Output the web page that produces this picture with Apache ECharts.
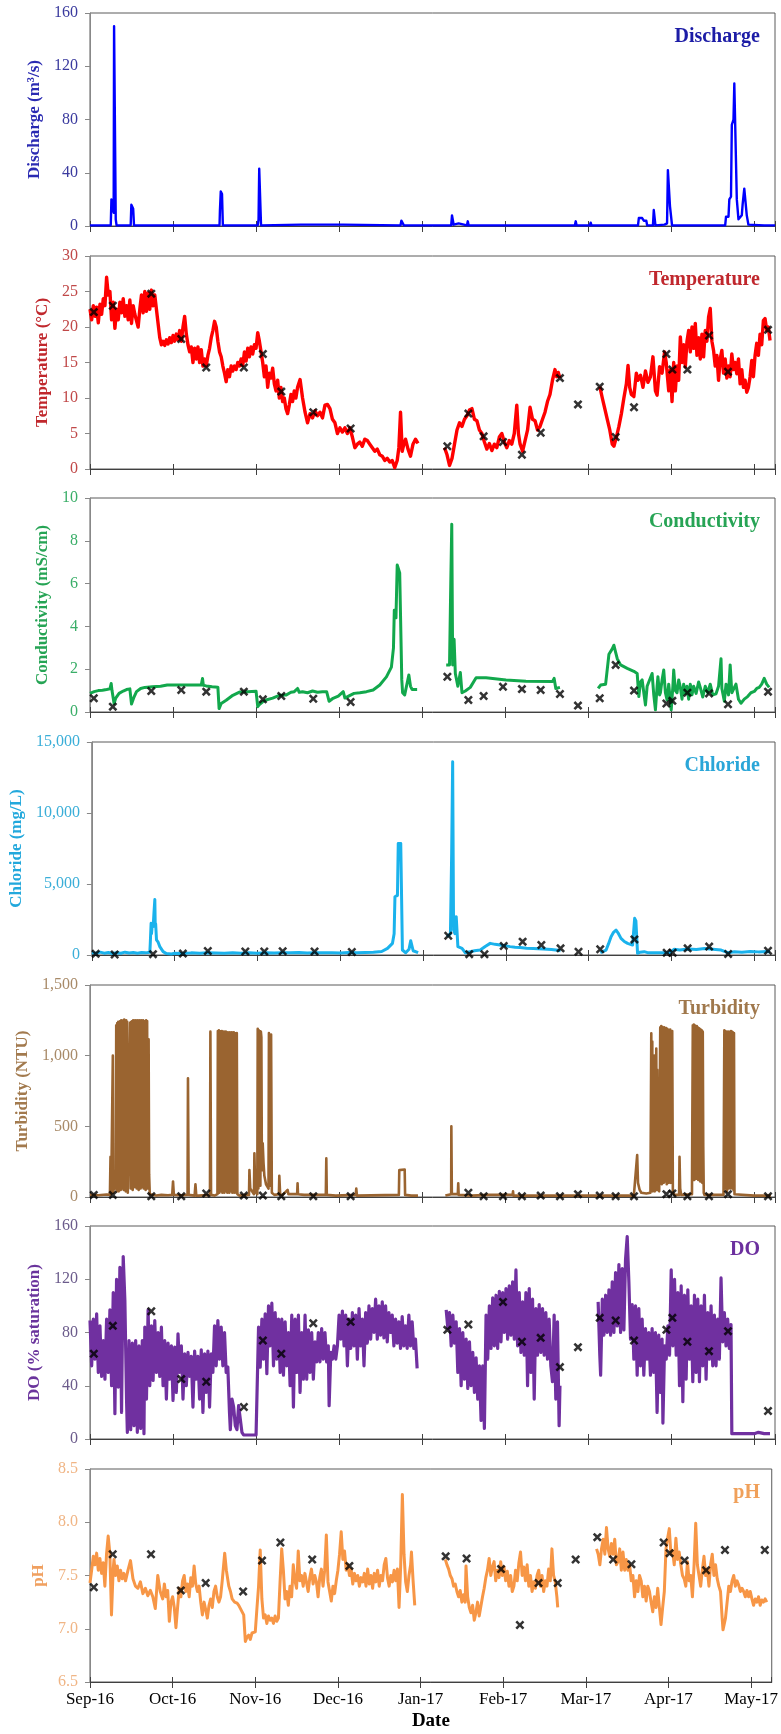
<!DOCTYPE html>
<html><head><meta charset="utf-8">
<script src="https://cdn.jsdelivr.net/npm/echarts@6/dist/echarts.min.js"></script>
<style>html,body{margin:0;padding:0;background:#fff}#c{width:781px;height:1734px}</style>
</head><body><div id="c"></div><script>
// x values are in months since Sep-16 (tick every month)
const tickLabels = ['Sep-16','Oct-16','Nov-16','Dec-16','Jan-17','Feb-17','Mar-17','Apr-17','May-17'];

const sampleMonths = [0.046,0.275,0.738,1.099,1.40,1.853,2.082,2.304,2.689,3.139,4.304,4.557,4.741,4.974,5.202,5.428,5.66,5.877,6.139,6.331,6.552,6.942,7.014,7.195,7.455,7.684,8.166];
const tempSample = [22.1,23.0,24.7,18.3,14.3,14.3,16.2,10.9,8.0,5.7,3.2,7.8,4.6,3.8,2.0,5.1,12.8,9.1,11.6,4.5,8.7,16.2,14.0,14.0,18.8,13.7,19.6];
const condSample = [0.64,0.25,0.98,1.03,0.95,0.95,0.59,0.75,0.62,0.47,1.65,0.56,0.75,1.18,1.07,1.03,0.84,0.3,0.64,2.2,1.0,0.4,0.52,0.9,0.87,0.36,0.95];
const clSample = [80,30,60,100,280,250,250,260,250,210,1360,60,54,630,940,700,470,230,400,null,1100,160,160,470,590,70,300];
const turbSample = [15,15,5,5,25,10,10,5,5,5,null,30,5,5,5,10,5,20,10,5,5,20,25,5,5,20,5];
const doSample = [64,85,96,45,43,24,74,64,87,88,82,86,null,103,73,76,54,69,91,89,74,82,91,73,66,81,21];
const phSample = [7.39,7.70,7.70,7.36,7.43,7.35,7.64,7.81,7.65,7.59,7.68,7.66,null,7.56,7.035,7.43,7.43,7.65,7.86,7.65,7.605,7.81,7.71,7.64,7.55,7.74,7.74];

const dischargeData = [[0,0.5],[0.25,0.5],[0.258,20],[0.27,18],[0.285,10],[0.29,150],[0.302,150],[0.31,5],[0.32,0.5],[0.49,0.5],[0.498,16],[0.51,15],[0.52,13],[0.53,0.5],[0.81,0.5],[0.82,1.5],[0.83,0.5],[1.34,0.5],[1.35,1],[1.36,0.5],[1.56,0.5],[1.565,12],[1.575,26],[1.59,24],[1.6,0.5],[2.02,0.5],[2.03,5],[2.038,43],[2.05,42],[2.06,0.5],[2.54,1],[3.05,1],[3.74,0.5],[3.75,4],[3.77,4],[3.78,0.5],[4.35,0.5],[4.36,8],[4.375,8],[4.38,1],[4.44,2],[4.45,0.5],[4.54,0.5],[4.55,3.5],[4.56,0.5],[5.59,0.5],[5.6,1],[5.61,0.5],[5.84,0.5],[5.85,3.5],[5.86,0.5],[6.02,0.5],[6.03,2.5],[6.04,0.5],[6.12,0.5],[6.13,1],[6.14,0.5],[6.6,0.5],[6.61,6],[6.65,6],[6.67,4],[6.7,4],[6.71,0.5],[6.78,0.5],[6.79,12],[6.8,12],[6.81,0.5],[6.92,1],[6.93,2],[6.95,2],[6.96,42],[6.98,42],[6.985,15],[7.0,15],[7.01,0.5],[7.65,0.5],[7.66,7],[7.69,7],[7.7,20],[7.72,22],[7.73,76],[7.75,80],[7.76,107],[7.78,107],[7.79,20],[7.81,5],[7.85,8],[7.86,16],[7.88,28],[7.9,28],[7.91,8],[7.93,1],[8.12,0.5],[8.13,1.5],[8.14,0.5],[8.25,0.5]];

const tempData = [[0,22.5],[0.02,21.0],[0.04,23.0],[0.06,21.5],[0.08,22.8],[0.10,20.6],[0.12,23.2],[0.14,21.8],[0.16,24.0],[0.18,23.0],[0.20,27.0],[0.22,24.5],[0.24,25.0],[0.26,21.0],[0.28,23.5],[0.30,19.8],[0.32,22.5],[0.34,21.0],[0.36,23.5],[0.38,22.0],[0.40,24.0],[0.42,21.5],[0.44,23.0],[0.46,21.0],[0.48,23.8],[0.50,20.5],[0.52,23.0],[0.54,21.8],[0.56,22.0],[0.58,20.0],[0.60,22.5],[0.62,24.5],[0.64,22.0],[0.66,25.0],[0.68,22.2],[0.70,24.8],[0.72,22.5],[0.74,25.2],[0.76,23.0],[0.78,24.5],[0.80,22.5],[0.82,20.5],[0.84,18.5],[0.86,17.5],[0.88,18.0],[0.90,17.4],[0.92,18.2],[0.94,17.6],[0.96,18.5],[0.98,17.8],[1.00,18.8],[1.02,18.0],[1.04,19.0],[1.06,18.2],[1.08,19.5],[1.10,18.0],[1.12,20.0],[1.14,21.5],[1.16,19.0],[1.18,17.5],[1.20,16.5],[1.22,17.2],[1.24,15.0],[1.26,17.0],[1.28,15.5],[1.30,17.2],[1.32,15.0],[1.34,16.8],[1.36,14.5],[1.38,15.5],[1.40,14.5],[1.42,16.0],[1.44,17.0],[1.46,18.5],[1.48,19.5],[1.50,20.8],[1.52,20.0],[1.54,18.0],[1.56,16.5],[1.58,15.8],[1.60,14.5],[1.62,13.5],[1.64,12.3],[1.66,14.0],[1.68,13.0],[1.70,14.5],[1.72,13.8],[1.74,14.5],[1.76,14.0],[1.78,15.0],[1.80,14.5],[1.82,15.5],[1.84,14.6],[1.86,16.5],[1.88,15.2],[1.90,17.0],[1.92,15.8],[1.94,17.2],[1.96,16.2],[1.98,17.5],[2.00,17.0],[2.02,19.2],[2.04,18.0],[2.06,16.5],[2.08,15.0],[2.10,13.0],[2.12,14.5],[2.14,11.5],[2.16,13.5],[2.18,12.8],[2.20,14.2],[2.22,12.0],[2.24,11.0],[2.26,12.5],[2.28,10.0],[2.30,11.5],[2.32,9.5],[2.34,10.0],[2.36,8.5],[2.38,7.8],[2.40,9.0],[2.42,10.5],[2.44,9.5],[2.46,11.0],[2.48,10.0],[2.50,11.5],[2.53,12.6],[2.56,10.0],[2.59,8.0],[2.62,6.5],[2.65,7.8],[2.68,7.2],[2.71,8.2],[2.74,7.5],[2.77,8.0],[2.80,7.2],[2.83,9.0],[2.86,9.1],[2.89,8.5],[2.92,7.0],[2.95,6.5],[2.98,5.0],[3.01,5.8],[3.04,5.2],[3.07,5.8],[3.10,5.0],[3.13,5.8],[3.16,4.5],[3.19,3.0],[3.22,3.5],[3.25,3.8],[3.28,3.2],[3.31,4.2],[3.34,4.0],[3.37,3.5],[3.40,3.0],[3.43,2.5],[3.46,2.8],[3.49,2.0],[3.52,1.8],[3.55,1.2],[3.58,1.5],[3.61,1.0],[3.64,1.2],[3.67,0.2],[3.70,1.2],[3.72,3.0],[3.74,8.0],[3.76,2.5],[3.78,3.5],[3.80,4.2],[3.83,2.8],[3.86,1.8],[3.89,3.5],[3.92,4.2],[3.95,3.6],[4.1,null],[4.27,3.0],[4.30,2.0],[4.33,0.5],[4.36,1.5],[4.39,3.5],[4.42,5.5],[4.45,6.5],[4.48,6.0],[4.51,7.0],[4.54,7.5],[4.57,8.3],[4.60,8.5],[4.63,7.0],[4.66,6.8],[4.69,5.5],[4.72,5.0],[4.75,3.8],[4.78,2.8],[4.81,3.6],[4.84,2.6],[4.87,3.5],[4.90,3.0],[4.93,4.5],[4.96,5.0],[4.99,3.8],[5.02,3.0],[5.05,4.0],[5.08,3.5],[5.11,5.0],[5.14,9.0],[5.16,5.0],[5.18,3.5],[5.21,2.5],[5.24,4.0],[5.27,5.5],[5.30,8.7],[5.33,7.0],[5.36,6.8],[5.39,5.5],[5.42,6.0],[5.45,7.0],[5.48,8.0],[5.51,9.5],[5.54,10.5],[5.57,12.5],[5.60,14.0],[5.62,13.0],[5.64,13.6],[5.66,12.8],[5.9,null],[6.14,11.6],[6.17,10.0],[6.20,8.5],[6.23,7.0],[6.26,5.5],[6.29,3.5],[6.31,3.2],[6.34,4.5],[6.37,6.0],[6.40,7.8],[6.43,10.0],[6.46,12.0],[6.48,14.6],[6.50,11.5],[6.52,10.5],[6.55,10.2],[6.58,13.5],[6.60,12.5],[6.63,13.2],[6.66,11.5],[6.69,13.8],[6.72,12.2],[6.75,13.0],[6.78,15.8],[6.81,11.0],[6.83,10.4],[6.86,14.4],[6.89,13.5],[6.92,16.5],[6.94,15.0],[6.97,11.0],[6.99,14.0],[7.01,9.5],[7.03,15.0],[7.05,11.0],[7.07,14.5],[7.09,12.5],[7.11,18.6],[7.13,15.0],[7.15,17.5],[7.17,14.4],[7.19,18.0],[7.21,19.5],[7.23,16.5],[7.25,20.0],[7.27,17.0],[7.29,20.5],[7.31,16.0],[7.33,18.5],[7.35,15.5],[7.37,19.0],[7.39,15.8],[7.41,19.5],[7.43,18.0],[7.45,21.4],[7.47,22.6],[7.49,18.0],[7.51,16.7],[7.53,14.5],[7.55,16.0],[7.57,12.5],[7.59,15.5],[7.61,16.7],[7.63,13.5],[7.65,15.5],[7.67,12.8],[7.69,14.5],[7.71,13.0],[7.73,16.2],[7.75,14.0],[7.77,15.0],[7.79,13.4],[7.81,15.5],[7.83,12.0],[7.85,14.0],[7.87,11.5],[7.89,12.5],[7.91,10.8],[7.93,11.5],[7.95,13.0],[7.97,15.3],[7.99,13.0],[8.01,16.0],[8.03,17.7],[8.05,16.0],[8.07,19.0],[8.09,17.5],[8.11,20.9],[8.13,21.2],[8.15,19.5],[8.17,20.0],[8.19,18.1]];

const condData = [[0,0.87],[0.05,0.95],[0.10,1.00],[0.15,1.02],[0.20,1.05],[0.24,1.08],[0.255,1.33],[0.265,1.0],[0.29,0.40],[0.31,0.65],[0.35,0.87],[0.40,0.98],[0.44,1.05],[0.48,1.08],[0.50,0.37],[0.53,0.70],[0.56,0.95],[0.61,1.10],[0.66,1.15],[0.75,1.18],[0.85,1.20],[0.93,1.26],[1.05,1.26],[1.20,1.26],[1.34,1.26],[1.355,1.57],[1.365,1.25],[1.40,1.22],[1.47,1.18],[1.54,1.16],[1.555,0.16],[1.58,0.40],[1.64,0.55],[1.72,0.78],[1.80,0.93],[1.90,0.95],[2.00,0.97],[2.02,0.25],[2.04,0.35],[2.08,0.48],[2.12,0.56],[2.20,0.65],[2.28,0.78],[2.36,0.79],[2.42,0.92],[2.46,0.95],[2.50,1.10],[2.52,0.92],[2.56,0.95],[2.62,0.90],[2.68,0.98],[2.74,0.92],[2.80,0.95],[2.85,0.95],[2.88,0.50],[2.92,0.62],[2.99,0.74],[3.05,0.95],[3.07,0.65],[3.12,0.75],[3.18,0.87],[3.25,0.90],[3.33,0.95],[3.41,1.03],[3.49,1.26],[3.57,1.64],[3.63,2.10],[3.655,3.0],[3.665,4.76],[3.685,4.4],[3.70,6.87],[3.73,6.5],[3.755,1.5],[3.765,0.9],[3.79,0.80],[3.84,1.73],[3.86,1.2],[3.88,1.05],[3.94,1.05],[4.1,null],[4.29,2.2],[4.33,2.2],[4.345,6.0],[4.357,8.77],[4.368,2.2],[4.385,3.4],[4.40,1.8],[4.43,1.2],[4.45,1.15],[4.46,1.85],[4.48,0.9],[4.52,0.98],[4.58,1.15],[4.65,1.6],[4.77,1.6],[5.01,1.5],[5.25,1.44],[5.57,1.42],[5.59,1.57],[5.61,1.10],[5.66,1.15],[5.9,null],[6.12,1.10],[6.15,1.26],[6.21,1.30],[6.25,2.70],[6.29,2.95],[6.31,3.12],[6.33,2.8],[6.35,2.49],[6.39,2.2],[6.47,2.04],[6.55,1.9],[6.59,1.8],[6.61,0.72],[6.63,1.4],[6.65,1.5],[6.67,0.9],[6.69,0.33],[6.71,1.2],[6.73,1.15],[6.75,1.6],[6.77,1.8],[6.79,0.8],[6.81,0.1],[6.83,1.2],[6.84,1.65],[6.86,0.8],[6.87,0.9],[6.89,1.5],[6.91,1.96],[6.93,0.9],[6.95,0.56],[6.97,1.3],[7.00,0.1],[7.02,1.2],[7.03,1.96],[7.05,1.0],[7.07,0.9],[7.09,1.5],[7.11,1.15],[7.13,0.6],[7.15,1.3],[7.17,0.87],[7.19,1.2],[7.21,0.6],[7.23,1.3],[7.25,0.8],[7.27,1.2],[7.30,0.87],[7.33,1.4],[7.35,1.15],[7.38,0.7],[7.41,1.2],[7.44,0.9],[7.47,1.3],[7.50,0.8],[7.54,0.85],[7.57,1.2],[7.60,2.49],[7.61,1.1],[7.64,0.5],[7.66,1.3],[7.69,0.8],[7.71,2.2],[7.73,0.9],[7.74,0.85],[7.78,1.3],[7.81,0.6],[7.84,0.41],[7.88,0.6],[7.92,0.72],[7.96,0.9],[8.00,0.96],[8.03,1.1],[8.06,1.15],[8.09,1.3],[8.12,1.57],[8.15,1.3],[8.18,1.15]];

const clData = [[0,150],[0.05,120],[0.10,200],[0.15,130],[0.20,180],[0.25,100],[0.30,160],[0.35,120],[0.40,200],[0.45,140],[0.50,180],[0.55,120],[0.60,170],[0.65,150],[0.70,200],[0.705,820],[0.715,2230],[0.72,1500],[0.73,2200],[0.74,2000],[0.75,3000],[0.76,3900],[0.765,2000],[0.77,2200],[0.78,1060],[0.80,900],[0.82,590],[0.86,235],[0.90,100],[0.96,70],[1.00,120],[1.10,100],[1.20,150],[1.30,120],[1.40,160],[1.50,140],[1.60,130],[1.70,150],[1.80,120],[1.90,150],[2.00,130],[2.10,160],[2.20,140],[2.30,160],[2.40,150],[2.50,170],[2.60,140],[2.70,160],[2.80,150],[2.90,160],[3.00,140],[3.10,170],[3.20,150],[3.30,170],[3.40,190],[3.50,250],[3.57,470],[3.63,820],[3.65,1500],[3.66,4100],[3.69,4200],[3.70,7860],[3.73,7860],[3.75,350],[3.79,160],[3.83,400],[3.85,1010],[3.87,900],[3.88,300],[3.94,160],[4.1,null],[4.29,1290],[4.33,1500],[4.345,7160],[4.357,13610],[4.368,1760],[4.385,1500],[4.40,2700],[4.42,590],[4.47,470],[4.51,160],[4.57,235],[4.62,300],[4.69,350],[4.75,600],[4.81,820],[4.87,750],[4.93,700],[4.99,650],[5.05,590],[5.11,550],[5.17,520],[5.25,470],[5.33,450],[5.45,420],[5.55,380],[5.63,330],[5.66,300],[5.9,null],[6.14,160],[6.21,350],[6.24,800],[6.27,1290],[6.30,1600],[6.33,1760],[6.36,1500],[6.39,1170],[6.43,950],[6.47,820],[6.53,700],[6.555,2580],[6.57,2400],[6.58,2460],[6.59,117],[6.62,200],[6.67,235],[6.72,150],[6.80,160],[6.90,150],[6.98,170],[7.03,400],[7.10,350],[7.20,420],[7.30,380],[7.40,450],[7.50,400],[7.60,350],[7.68,160],[7.76,230],[7.85,200],[7.95,250],[8.05,220],[8.15,240],[8.19,230]];

const turbData = [[0,15],[0.10,12],[0.20,18],[0.24,15],[0.247,285],[0.255,20],[0.27,20],[0.275,1000],[0.28,30],[0.29,80],[0.30,150],[0.31,60],[0.316,1215],[0.322,40],[0.328,1230],[0.334,60],[0.340,1240],[0.346,40],[0.352,1235],[0.358,80],[0.364,1245],[0.370,50],[0.376,1250],[0.382,90],[0.388,1240],[0.394,60],[0.400,1250],[0.406,50],[0.412,1255],[0.418,80],[0.424,1245],[0.430,40],[0.436,1250],[0.442,70],[0.448,1240],[0.455,30],[0.465,20],[0.475,40],[0.484,1235],[0.490,60],[0.496,1240],[0.502,90],[0.508,1245],[0.514,50],[0.520,1250],[0.526,100],[0.532,1240],[0.538,70],[0.544,1250],[0.550,110],[0.556,1245],[0.562,60],[0.568,1250],[0.574,90],[0.580,1240],[0.586,50],[0.592,1250],[0.598,80],[0.604,1245],[0.610,60],[0.616,1250],[0.622,100],[0.628,1240],[0.634,70],[0.640,1250],[0.646,60],[0.652,1245],[0.658,90],[0.664,1240],[0.670,50],[0.676,1250],[0.682,80],[0.688,1245],[0.694,60],[0.700,170],[0.706,1115],[0.712,160],[0.72,20],[0.74,10],[0.80,10],[0.86,15],[0.94,12],[0.99,15],[1.0,110],[1.01,15],[1.10,12],[1.175,15],[1.18,840],[1.188,15],[1.26,10],[1.27,90],[1.28,10],[1.30,20],[1.31,10],[1.445,15],[1.45,1170],[1.458,15],[1.50,10],[1.535,20],[1.54,1175],[1.546,40],[1.552,1180],[1.558,30],[1.564,1175],[1.570,60],[1.576,1170],[1.582,40],[1.588,1175],[1.594,30],[1.600,1165],[1.606,50],[1.612,1170],[1.618,30],[1.624,1165],[1.630,40],[1.636,1170],[1.642,50],[1.648,1160],[1.654,30],[1.660,1165],[1.666,40],[1.672,1160],[1.678,30],[1.684,1165],[1.690,60],[1.696,1160],[1.702,40],[1.708,1165],[1.714,30],[1.720,1160],[1.726,50],[1.732,1165],[1.738,30],[1.744,1160],[1.750,40],[1.756,1155],[1.762,30],[1.768,1160],[1.775,20],[1.80,10],[1.88,15],[1.915,15],[1.92,190],[1.93,60],[1.975,20],[1.98,310],[1.99,40],[2.0,30],[2.015,20],[2.02,1190],[2.028,60],[2.034,1180],[2.040,100],[2.046,1175],[2.052,80],[2.058,1170],[2.064,1130],[2.070,190],[2.08,380],[2.09,240],[2.10,150],[2.12,90],[2.15,60],[2.155,1160],[2.162,100],[2.168,1150],[2.175,80],[2.181,1150],[2.19,30],[2.22,15],[2.275,20],[2.28,150],[2.29,20],[2.32,15],[2.38,50],[2.39,20],[2.495,20],[2.50,97],[2.505,20],[2.58,15],[2.84,15],[2.846,273],[2.852,15],[2.96,10],[3.20,15],[3.207,60],[3.215,10],[3.72,15],[3.725,190],[3.79,195],[3.795,15],[3.87,10],[3.95,10],[4.1,null],[4.28,10],[4.35,20],[4.352,500],[4.358,20],[4.43,20],[4.435,97],[4.44,15],[4.60,10],[4.80,15],[5.09,15],[5.095,40],[5.10,10],[5.40,10],[6.55,10],[6.59,297],[6.60,100],[6.62,50],[6.64,30],[6.70,25],[6.75,30],[6.760,1158],[6.766,60],[6.772,1100],[6.778,40],[6.784,920],[6.790,60],[6.796,1000],[6.802,40],[6.808,950],[6.814,80],[6.820,1050],[6.826,50],[6.832,900],[6.840,60],[6.855,40],[6.868,1200],[6.874,120],[6.880,1210],[6.886,90],[6.892,1205],[6.898,150],[6.904,1195],[6.910,100],[6.916,1200],[6.922,130],[6.928,1190],[6.934,110],[6.940,1195],[6.946,90],[6.952,1190],[6.958,120],[6.964,1185],[6.970,100],[6.976,1180],[6.982,130],[6.988,1185],[6.994,100],[7.000,1170],[7.006,120],[7.012,1175],[7.020,30],[7.04,15],[7.095,15],[7.10,285],[7.108,60],[7.12,15],[7.25,20],[7.260,1215],[7.266,150],[7.272,1220],[7.278,120],[7.284,1215],[7.290,160],[7.296,1210],[7.302,130],[7.308,1210],[7.314,150],[7.320,1200],[7.326,120],[7.332,1195],[7.338,140],[7.344,1190],[7.350,110],[7.356,1185],[7.362,130],[7.368,1180],[7.374,100],[7.380,1170],[7.386,356],[7.392,30],[7.40,15],[7.63,15],[7.640,1180],[7.646,60],[7.652,1175],[7.658,80],[7.664,1170],[7.670,40],[7.676,60],[7.684,1170],[7.690,60],[7.696,1165],[7.702,80],[7.708,1170],[7.714,60],[7.720,1175],[7.726,80],[7.732,1170],[7.738,60],[7.744,1165],[7.750,50],[7.756,1160],[7.762,20],[7.78,10],[8.0,10],[8.2,10]];

const doData = [[0,89],[0.02,55],[0.04,90],[0.06,60],[0.08,94],[0.10,50],[0.12,85],[0.14,47],[0.16,74],[0.18,45],[0.20,90],[0.22,50],[0.24,97],[0.26,40],[0.28,110],[0.30,19],[0.32,120],[0.34,39],[0.36,129],[0.38,20],[0.40,137],[0.42,104],[0.44,30],[0.45,5],[0.47,74],[0.49,7],[0.51,72],[0.53,10],[0.55,74],[0.57,5],[0.59,70],[0.61,8],[0.63,74],[0.65,4],[0.66,84],[0.68,30],[0.70,97],[0.72,40],[0.74,85],[0.76,44],[0.78,89],[0.80,50],[0.82,80],[0.84,47],[0.86,84],[0.88,40],[0.90,74],[0.92,30],[0.94,72],[0.96,45],[0.98,70],[1.00,29],[1.02,69],[1.04,35],[1.06,79],[1.08,50],[1.10,70],[1.12,30],[1.14,64],[1.16,40],[1.18,65],[1.20,47],[1.22,62],[1.24,24],[1.26,66],[1.28,45],[1.30,62],[1.32,30],[1.34,67],[1.36,20],[1.38,64],[1.40,35],[1.42,66],[1.44,24],[1.46,64],[1.48,50],[1.50,85],[1.52,55],[1.54,89],[1.56,60],[1.58,84],[1.60,55],[1.62,80],[1.64,50],[1.66,54],[1.68,20],[1.69,7],[1.71,30],[1.73,24],[1.75,10],[1.77,7],[1.79,25],[1.81,26],[1.83,5],[1.85,3],[1.90,3],[1.95,3],[2.00,3],[2.02,3],[2.03,84],[2.05,54],[2.07,90],[2.09,60],[2.11,94],[2.13,49],[2.15,100],[2.17,70],[2.19,102],[2.21,55],[2.23,95],[2.25,60],[2.27,90],[2.29,50],[2.31,90],[2.33,48],[2.35,88],[2.37,55],[2.39,80],[2.41,40],[2.43,93],[2.45,24],[2.47,90],[2.49,50],[2.51,93],[2.53,35],[2.55,80],[2.57,45],[2.59,93],[2.61,45],[2.63,82],[2.65,50],[2.67,80],[2.69,45],[2.71,73],[2.73,58],[2.75,80],[2.77,58],[2.79,83],[2.81,60],[2.83,80],[2.85,58],[2.87,70],[2.88,25],[2.90,65],[2.92,60],[2.94,70],[2.96,60],[2.98,70],[3.00,93],[3.02,75],[3.04,96],[3.06,70],[3.08,93],[3.10,55],[3.12,90],[3.14,68],[3.16,95],[3.18,70],[3.20,93],[3.22,60],[3.24,98],[3.26,70],[3.28,90],[3.30,55],[3.32,95],[3.34,72],[3.36,100],[3.38,75],[3.40,98],[3.42,80],[3.44,105],[3.46,75],[3.48,100],[3.50,78],[3.52,103],[3.54,76],[3.56,100],[3.58,73],[3.60,95],[3.62,80],[3.64,93],[3.66,70],[3.68,90],[3.70,72],[3.72,88],[3.74,68],[3.76,92],[3.78,70],[3.80,85],[3.82,68],[3.84,93],[3.86,70],[3.88,88],[3.90,68],[3.92,75],[3.94,53],[4.1,null],[4.29,97],[4.31,83],[4.33,95],[4.35,70],[4.37,93],[4.39,72],[4.41,88],[4.43,50],[4.45,83],[4.47,40],[4.49,80],[4.51,45],[4.53,75],[4.55,38],[4.57,73],[4.59,40],[4.61,65],[4.63,35],[4.65,61],[4.67,30],[4.69,55],[4.71,14],[4.73,55],[4.75,8],[4.77,93],[4.79,60],[4.81,100],[4.83,68],[4.85,106],[4.87,70],[4.89,108],[4.91,68],[4.93,111],[4.95,73],[4.97,110],[4.99,80],[5.01,113],[5.03,75],[5.05,115],[5.07,78],[5.09,118],[5.11,75],[5.13,127],[5.15,70],[5.17,110],[5.19,65],[5.21,103],[5.23,63],[5.25,110],[5.27,40],[5.29,113],[5.31,50],[5.33,105],[5.35,30],[5.37,98],[5.39,63],[5.41,101],[5.43,65],[5.45,98],[5.47,63],[5.49,95],[5.51,60],[5.53,90],[5.55,55],[5.57,43],[5.59,93],[5.61,30],[5.63,88],[5.65,10],[5.66,40],[5.9,null],[6.12,103],[6.14,63],[6.15,48],[6.17,105],[6.19,78],[6.21,108],[6.23,80],[6.25,112],[6.27,78],[6.29,118],[6.31,80],[6.33,125],[6.35,85],[6.37,131],[6.39,80],[6.41,128],[6.43,82],[6.45,135],[6.47,152],[6.49,118],[6.51,75],[6.53,101],[6.55,60],[6.57,100],[6.59,48],[6.61,98],[6.63,55],[6.65,90],[6.67,48],[6.69,83],[6.71,60],[6.73,80],[6.75,48],[6.77,83],[6.79,50],[6.81,80],[6.83,20],[6.85,78],[6.87,35],[6.89,75],[6.90,12],[6.92,70],[6.94,60],[6.96,85],[6.98,63],[7.00,127],[7.02,70],[7.04,120],[7.06,63],[7.08,110],[7.10,40],[7.12,115],[7.14,28],[7.16,108],[7.18,45],[7.20,112],[7.22,60],[7.24,100],[7.26,43],[7.28,108],[7.30,50],[7.32,105],[7.34,43],[7.36,100],[7.38,55],[7.40,108],[7.42,45],[7.44,95],[7.46,60],[7.48,100],[7.50,55],[7.52,93],[7.54,55],[7.56,90],[7.58,60],[7.60,121],[7.62,73],[7.64,95],[7.66,70],[7.68,90],[7.70,68],[7.72,86],[7.73,4],[7.76,4],[7.9,4],[8.0,4],[8.05,5],[8.07,5.5],[8.12,4],[8.19,4]];

const phData = [[0,7.43],[0.02,7.55],[0.04,7.68],[0.06,7.60],[0.08,7.71],[0.10,7.55],[0.12,7.66],[0.14,7.52],[0.16,7.62],[0.18,7.40],[0.20,7.70],[0.22,7.87],[0.24,7.71],[0.26,7.13],[0.28,7.55],[0.29,7.65],[0.31,7.50],[0.33,7.59],[0.35,7.45],[0.37,7.55],[0.39,7.47],[0.41,7.52],[0.43,7.45],[0.46,7.55],[0.49,7.64],[0.52,7.47],[0.55,7.40],[0.58,7.38],[0.61,7.44],[0.64,7.33],[0.67,7.38],[0.70,7.31],[0.73,7.36],[0.76,7.30],[0.79,7.19],[0.82,7.50],[0.85,7.35],[0.88,7.28],[0.90,7.42],[0.92,7.30],[0.94,7.36],[0.96,7.07],[0.98,7.25],[1.00,7.30],[1.02,7.20],[1.04,7.01],[1.06,7.20],[1.08,7.38],[1.10,7.30],[1.12,7.45],[1.14,7.50],[1.16,7.35],[1.18,7.42],[1.20,7.30],[1.22,7.48],[1.24,7.40],[1.26,7.59],[1.28,7.42],[1.30,7.35],[1.32,7.40],[1.34,7.25],[1.36,7.13],[1.38,7.25],[1.40,7.18],[1.42,7.10],[1.44,7.22],[1.46,7.28],[1.48,7.20],[1.50,7.35],[1.52,7.40],[1.54,7.30],[1.56,7.25],[1.58,7.30],[1.60,7.45],[1.63,7.71],[1.65,7.55],[1.68,7.40],[1.70,7.35],[1.72,7.28],[1.75,7.25],[1.78,7.24],[1.80,7.22],[1.86,7.13],[1.88,6.88],[1.90,6.92],[1.92,6.94],[1.94,6.90],[1.96,6.96],[1.98,6.95],[2.00,6.97],[2.02,7.19],[2.04,7.40],[2.06,7.74],[2.08,7.28],[2.10,7.10],[2.12,7.13],[2.14,7.05],[2.16,7.12],[2.18,7.08],[2.20,7.10],[2.22,7.05],[2.24,7.12],[2.26,7.07],[2.28,7.10],[2.30,7.44],[2.32,7.75],[2.34,7.55],[2.36,7.28],[2.38,7.35],[2.40,7.22],[2.42,7.40],[2.44,7.30],[2.46,7.60],[2.48,7.45],[2.50,7.38],[2.52,7.73],[2.54,7.45],[2.56,7.50],[2.58,7.40],[2.60,7.52],[2.62,7.53],[2.64,7.35],[2.66,7.48],[2.68,7.56],[2.70,7.42],[2.72,7.50],[2.74,7.44],[2.76,7.30],[2.78,7.48],[2.80,7.56],[2.82,7.40],[2.84,7.55],[2.86,7.88],[2.88,7.44],[2.90,7.35],[2.92,7.26],[2.94,7.40],[2.96,7.33],[2.98,7.45],[3.00,7.55],[3.02,7.70],[3.04,7.91],[3.06,7.65],[3.08,7.73],[3.10,7.55],[3.12,7.60],[3.14,7.50],[3.16,7.56],[3.18,7.42],[3.20,7.52],[3.22,7.45],[3.24,7.50],[3.26,7.40],[3.28,7.48],[3.30,7.44],[3.32,7.52],[3.34,7.40],[3.36,7.56],[3.38,7.42],[3.40,7.50],[3.42,7.38],[3.44,7.52],[3.46,7.44],[3.48,7.55],[3.50,7.40],[3.52,7.50],[3.54,7.45],[3.56,7.60],[3.58,7.66],[3.60,7.48],[3.62,7.40],[3.64,7.50],[3.66,7.44],[3.68,7.55],[3.70,7.45],[3.72,7.56],[3.74,7.20],[3.76,7.60],[3.78,8.26],[3.80,7.70],[3.82,7.44],[3.84,7.35],[3.86,7.50],[3.88,7.60],[3.89,7.72],[3.91,7.45],[3.93,7.22],[4.1,null],[4.30,7.65],[4.32,7.60],[4.34,7.56],[4.36,7.50],[4.38,7.47],[4.40,7.40],[4.42,7.42],[4.44,7.35],[4.46,7.30],[4.48,7.36],[4.50,7.25],[4.52,7.32],[4.54,7.25],[4.55,7.59],[4.57,7.30],[4.59,7.20],[4.61,7.15],[4.63,7.22],[4.65,7.08],[4.67,7.15],[4.69,7.25],[4.71,7.12],[4.73,7.13],[4.75,7.30],[4.77,7.38],[4.79,7.48],[4.81,7.55],[4.83,7.66],[4.85,7.50],[4.87,7.58],[4.89,7.63],[4.91,7.45],[4.93,7.55],[4.95,7.48],[4.97,7.63],[4.99,7.50],[5.01,7.58],[5.03,7.45],[5.05,7.54],[5.07,7.40],[5.09,7.50],[5.11,7.35],[5.13,7.40],[5.15,7.55],[5.17,7.45],[5.19,7.62],[5.21,7.72],[5.23,7.50],[5.25,7.58],[5.27,7.45],[5.29,7.60],[5.31,7.40],[5.33,7.50],[5.35,7.35],[5.37,7.44],[5.39,7.38],[5.41,7.50],[5.43,7.55],[5.45,7.40],[5.47,7.50],[5.49,7.35],[5.51,7.45],[5.53,7.40],[5.55,7.56],[5.57,7.45],[5.59,7.75],[5.61,7.50],[5.63,7.44],[5.65,7.30],[5.66,7.20],[5.9,null],[6.13,7.75],[6.15,7.70],[6.17,7.60],[6.19,7.75],[6.21,7.84],[6.23,7.70],[6.25,7.95],[6.27,7.75],[6.29,7.68],[6.31,7.80],[6.33,7.70],[6.35,7.84],[6.37,7.60],[6.39,7.63],[6.41,7.75],[6.43,7.55],[6.45,7.72],[6.47,7.55],[6.49,7.65],[6.51,7.55],[6.53,7.60],[6.55,7.45],[6.57,7.50],[6.59,7.30],[6.61,7.45],[6.63,7.35],[6.65,7.50],[6.67,7.45],[6.69,7.30],[6.71,7.40],[6.73,7.26],[6.75,7.40],[6.77,7.35],[6.79,7.25],[6.81,7.16],[6.83,7.30],[6.85,7.20],[6.87,7.38],[6.89,7.20],[6.91,7.04],[6.93,7.20],[6.95,7.35],[6.97,7.75],[6.99,7.85],[7.01,7.94],[7.03,7.70],[7.05,7.73],[7.07,7.60],[7.09,7.85],[7.11,7.65],[7.13,7.72],[7.15,7.60],[7.17,7.50],[7.19,7.47],[7.21,7.40],[7.23,7.63],[7.25,7.45],[7.27,7.50],[7.29,7.30],[7.31,7.60],[7.33,7.99],[7.35,7.60],[7.37,7.50],[7.39,7.40],[7.41,7.55],[7.43,7.68],[7.45,7.50],[7.47,7.56],[7.49,7.40],[7.51,7.60],[7.53,7.70],[7.55,7.50],[7.57,7.60],[7.59,7.47],[7.61,7.40],[7.63,7.35],[7.65,7.10],[7.66,6.99],[7.68,7.00],[7.69,7.10],[7.71,7.25],[7.73,7.40],[7.75,7.35],[7.77,7.45],[7.79,7.50],[7.81,7.40],[7.83,7.45],[7.85,7.41],[7.87,7.35],[7.89,7.38],[7.91,7.35],[7.93,7.30],[7.95,7.36],[7.97,7.30],[7.99,7.35],[8.01,7.28],[8.03,7.22],[8.05,7.28],[8.07,7.25],[8.09,7.30],[8.11,7.22],[8.13,7.27],[8.15,7.25],[8.17,7.28],[8.19,7.25]];

// ---------- rendering ----------
const FONT = "'Times New Roman','Liberation Serif',serif";
const XMAX = 8.25;
const panels = [
  {top:13,  h:213, min:0,   max:160,   step:40,   name:'Discharge (m\u00B3/s)', title:'Discharge',    nameColor:'#2a2ab2', tickColor:'#3a3a9e', titleColor:'#1c1ca6', line:'#0000ff', lw:2.4, data:dischargeData, gap:44, samples:null, fmt:v=>String(v)},
  {top:256, h:213, min:0,   max:30,    step:5,    name:'Temperature (\u00B0C)', title:'Temperature', nameColor:'#c0282d', tickColor:'#c04848', titleColor:'#c0272d', line:'#ff0000', lw:3.4, data:tempData, gap:36, samples:tempSample, fmt:v=>String(v)},
  {top:498, h:214, min:0,   max:10,    step:2,    name:'Conductivity (mS/cm)', title:'Conductivity',  nameColor:'#26a455', tickColor:'#3aae68', titleColor:'#27a455', line:'#12a84c', lw:3, data:condData, gap:36, samples:condSample, fmt:v=>String(v)},
  {top:742, h:213, min:0,   max:15000, step:5000, name:'Chloride (mg/L)',      title:'Chloride',      nameColor:'#22a8dc', tickColor:'#3aaed8', titleColor:'#2aa6d8', line:'#1ab2ec', lw:3, data:clData, gap:66, samples:clSample, fmt:v=>v.toLocaleString('en-US')},
  {top:985, h:212, min:0,   max:1500,  step:500,  name:'Turbidity (NTU)',      title:'Turbidity',     nameColor:'#a27a4e', tickColor:'#a88a68', titleColor:'#a0784c', line:'#9a6430', lw:2.6, data:turbData, gap:57, samples:turbSample, fmt:v=>v.toLocaleString('en-US')},
  {top:1226,h:213, min:0,   max:160,   step:40,   name:'DO (% saturation)',    title:'DO',            nameColor:'#6a349c', tickColor:'#6b5b8b', titleColor:'#6b2f9e', line:'#7030a0', lw:3.2, data:doData, gap:46, samples:doSample, fmt:v=>String(v)},
  {top:1469,h:213, min:6.5, max:8.5,   step:0.5,  name:'pH',                   title:'pH',            nameColor:'#f0a060', tickColor:'#f0b585', titleColor:'#f0a05a', line:'#f79646', lw:3, data:phData, gap:43, samples:phSample, fmt:v=>v.toFixed(1)}
];

const XSYM = 'path://M0,2L2,0L5,3L8,0L10,2L7,5L10,8L8,10L5,7L2,10L0,8L3,5Z';

const grid = [], xAxis = [], yAxis = [], series = [], title = [];
panels.forEach((p, i) => {
  const last = i === panels.length - 1;
  grid.push({left:90, right:6, top:p.top, height:p.h, show:true, borderColor:'#5a5a5a', borderWidth:1, containLabel:false});
  xAxis.push({
    type:'value', gridIndex:i, min:0, max:XMAX, interval:1, position:'bottom',
    axisLine:{show:true, onZero:false, lineStyle:{color:'#404040', width:1}},
    axisTick:{show:true, length:6, lineStyle:{color:'#404040'}},
    splitLine:{show:false},
    axisLabel:{show:last, margin:9, color:'#000', fontFamily:FONT, fontSize:17,
      formatter:v => (Math.abs(v - Math.round(v)) < 1e-6 && tickLabels[Math.round(v)]) ? tickLabels[Math.round(v)] : '',
      showMaxLabel:false},
    name: last ? 'Date' : '', nameLocation:'middle', nameGap:30,
    nameTextStyle:{fontFamily:FONT, fontSize:19, fontWeight:'bold', color:'#000'}
  });
  yAxis.push({
    type:'value', gridIndex:i, min:p.min, max:p.max, interval:p.step,
    axisLine:{show:true, lineStyle:{color:'#888', width:1}},
    axisTick:{show:true, length:5, lineStyle:{color:'#888'}},
    splitLine:{show:false},
    axisLabel:{margin:12, color:p.tickColor, fontFamily:FONT, fontSize:16, formatter:p.fmt},
    name:p.name, nameLocation:'middle', nameGap:p.gap,
    nameTextStyle:{fontFamily:FONT, fontSize:17, fontWeight:'bold', color:p.nameColor}
  });
  title.push({text:p.title, right:16, top:p.top + 9,
    textStyle:{fontFamily:FONT, fontSize:20, fontWeight:'bold', color:p.titleColor}});
  series.push({type:'line', xAxisIndex:i, yAxisIndex:i, data:p.data, showSymbol:false, symbol:'none',
    connectNulls:false, sampling:null, lineStyle:{color:p.line, width:p.lw, join:'round'}, z:2, animation:false});
  if (p.samples) {
    const pts = [];
    sampleMonths.forEach((m, k) => { if (p.samples[k] !== null) pts.push([m, p.samples[k]]); });
    series.push({type:'scatter', xAxisIndex:i, yAxisIndex:i, data:pts, symbol:XSYM, symbolSize:9,
      itemStyle:{color:'#000'}, z:5, animation:false});
  }
});
// inner half of crossing x ticks
panels.forEach((p, i) => {
  xAxis.push({type:'value', gridIndex:i, min:0, max:XMAX, interval:1, position:'bottom', offset:0,
    axisLine:{show:false}, axisLabel:{show:false}, splitLine:{show:false},
    axisTick:{show:true, inside:true, length:5, lineStyle:{color:'#404040'}}});
});

const chart = echarts.init(document.getElementById('c'), null, {renderer:'canvas'});
chart.setOption({animation:false, backgroundColor:'#fff', title, grid, xAxis, yAxis, series});
</script></body></html>
